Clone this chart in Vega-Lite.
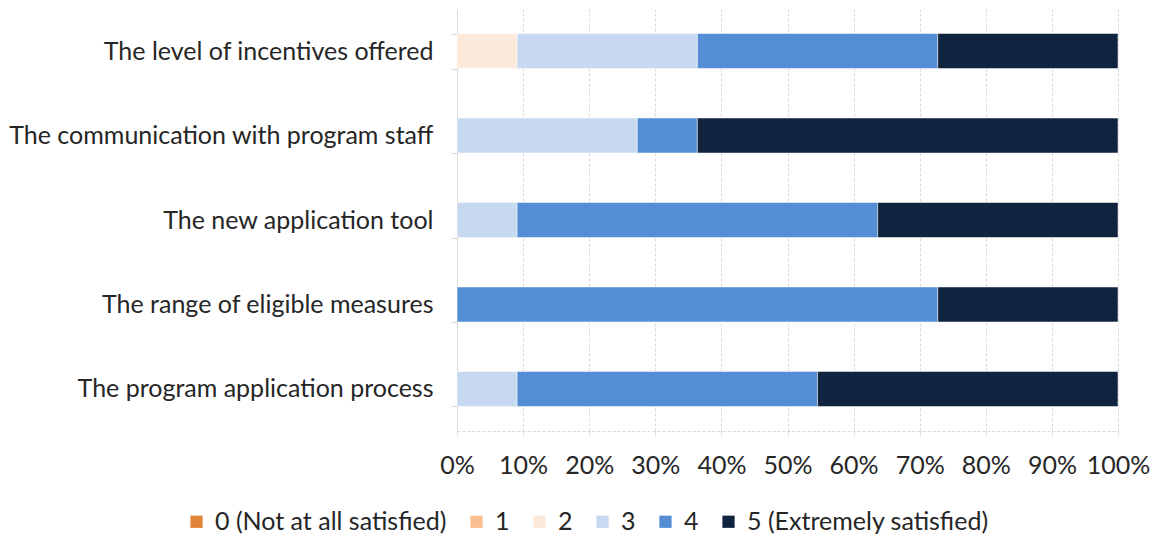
{
  "$schema": "https://vega.github.io/schema/vega-lite/v6.json",
  "width": 661,
  "height": 422,
  "autosize": {"type": "none"},
  "padding": {"left": 457, "top": 9, "right": 35, "bottom": 106},
  "background": "white",
  "config": {
    "view": {"stroke": null},
    "font": "Lato",
    "axis": {"labelFont": "Lato", "labelColor": "#262626", "labelFontSize": 25, "labelLimit": 0}
  },
  "data": {
    "values": [
      {"aspect": "The level of incentives offered", "rating": "2", "share": 9.09},
      {"aspect": "The level of incentives offered", "rating": "3", "share": 27.27},
      {"aspect": "The level of incentives offered", "rating": "4", "share": 36.36},
      {"aspect": "The level of incentives offered", "rating": "5 (Extremely satisfied)", "share": 27.27},
      {"aspect": "The communication with program staff", "rating": "3", "share": 27.27},
      {"aspect": "The communication with program staff", "rating": "4", "share": 9.09},
      {"aspect": "The communication with program staff", "rating": "5 (Extremely satisfied)", "share": 63.64},
      {"aspect": "The new application tool", "rating": "3", "share": 9.09},
      {"aspect": "The new application tool", "rating": "4", "share": 54.55},
      {"aspect": "The new application tool", "rating": "5 (Extremely satisfied)", "share": 36.36},
      {"aspect": "The range of eligible measures", "rating": "4", "share": 72.73},
      {"aspect": "The range of eligible measures", "rating": "5 (Extremely satisfied)", "share": 27.27},
      {"aspect": "The program application process", "rating": "3", "share": 9.09},
      {"aspect": "The program application process", "rating": "4", "share": 45.45},
      {"aspect": "The program application process", "rating": "5 (Extremely satisfied)", "share": 45.45}
    ]
  },
  "transform": [
    {"calculate": "indexof(['0 (Not at all satisfied)','1','2','3','4','5 (Extremely satisfied)'], datum.rating)", "as": "order"}
  ],
  "mark": {"type": "bar", "stroke": "white", "strokeWidth": 0.5},
  "encoding": {
    "y": {
      "field": "aspect",
      "type": "nominal",
      "sort": ["The level of incentives offered", "The communication with program staff", "The new application tool", "The range of eligible measures", "The program application process"],
      "scale": {"paddingInner": 0.585, "paddingOuter": 0.29},
      "axis": {
        "title": null,
        "domainColor": "#D9D9D9",
        "tickColor": "#D9D9D9",
        "tickBand": "extent",
        "tickSize": 6,
        "labelPadding": 18,
        "grid": false
      }
    },
    "x": {
      "field": "share",
      "type": "quantitative",
      "stack": "normalize",
      "scale": {"domain": [0, 1]},
      "axis": {
        "title": null,
        "format": ".0%",
        "values": [0, 0.1, 0.2, 0.3, 0.4, 0.5, 0.6, 0.7, 0.8, 0.9, 1],
        "labelOverlap": false,
        "labelFlush": false,
        "grid": true,
        "gridColor": "#D9D9D9",
        "gridDash": [3, 2],
        "domainColor": "#D9D9D9",
        "domainDash": [3, 2],
        "tickColor": "#D9D9D9",
        "tickDash": [3, 2],
        "tickSize": 6,
        "labelPadding": 16
      }
    },
    "color": {
      "field": "rating",
      "type": "nominal",
      "scale": {
        "domain": ["0 (Not at all satisfied)", "1", "2", "3", "4", "5 (Extremely satisfied)"],
        "range": ["#E0843A", "#F9BF8F", "#FDE9D9", "#C6D9F0", "#558ED5", "#10243F"]
      },
      "legend": {
        "title": null,
        "orient": "none",
        "direction": "horizontal",
        "legendX": -273,
        "legendY": 500,
        "symbolType": "square",
        "symbolSize": 150,
        "symbolStrokeWidth": 0,
        "labelFont": "Lato",
        "labelFontSize": 25,
        "labelLimit": 0,
        "labelColor": "#262626",
        "columnPadding": 17,
        "labelOffset": 6
      }
    },
    "order": {"field": "order", "type": "quantitative"}
  }
}
